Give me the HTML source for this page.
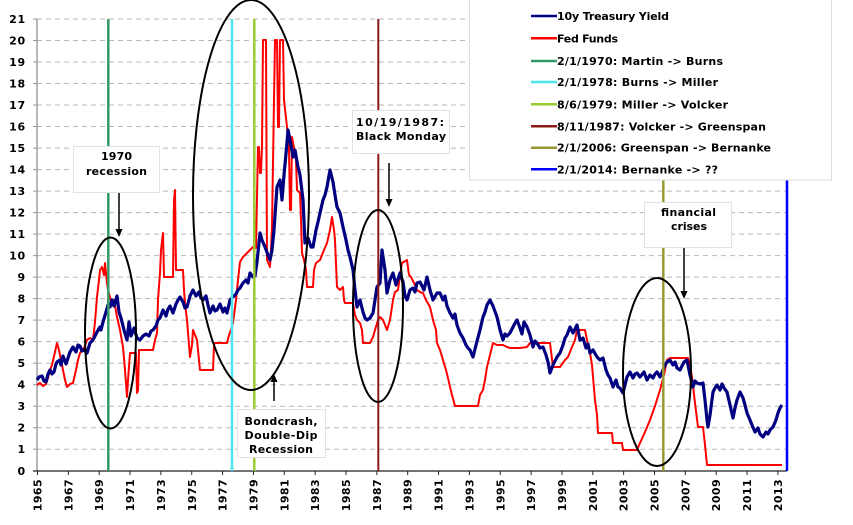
<!DOCTYPE html>
<html><head><meta charset="utf-8"><style>
html,body{margin:0;padding:0;background:#fff;}
svg{display:block;}
text{font-family:"DejaVu Sans","Liberation Sans",sans-serif;font-weight:bold;font-size:11px;fill:#000;}
</style></head><body>
<svg width="853" height="525" viewBox="0 0 853 525" xmlns="http://www.w3.org/2000/svg">
<rect width="853" height="525" fill="#fff"/>
<!-- gridlines -->
<g stroke="#b8b8b8" stroke-width="1" stroke-dasharray="5,4">
<line x1="37" y1="449.2" x2="787" y2="449.2"/>
<line x1="37" y1="427.7" x2="787" y2="427.7"/>
<line x1="37" y1="406.2" x2="787" y2="406.2"/>
<line x1="37" y1="384.7" x2="787" y2="384.7"/>
<line x1="37" y1="363.2" x2="787" y2="363.2"/>
<line x1="37" y1="341.6" x2="787" y2="341.6"/>
<line x1="37" y1="320.1" x2="787" y2="320.1"/>
<line x1="37" y1="298.6" x2="787" y2="298.6"/>
<line x1="37" y1="277.1" x2="787" y2="277.1"/>
<line x1="37" y1="255.6" x2="787" y2="255.6"/>
<line x1="37" y1="234.1" x2="787" y2="234.1"/>
<line x1="37" y1="212.6" x2="787" y2="212.6"/>
<line x1="37" y1="191.1" x2="787" y2="191.1"/>
<line x1="37" y1="169.6" x2="787" y2="169.6"/>
<line x1="37" y1="148.1" x2="787" y2="148.1"/>
<line x1="37" y1="126.5" x2="787" y2="126.5"/>
<line x1="37" y1="105.0" x2="787" y2="105.0"/>
<line x1="37" y1="83.5" x2="787" y2="83.5"/>
<line x1="37" y1="62.0" x2="787" y2="62.0"/>
<line x1="37" y1="40.5" x2="787" y2="40.5"/>
<line x1="37" y1="19.0" x2="787" y2="19.0"/>
</g>
<!-- axes -->
<line x1="37" y1="19" x2="37" y2="471" stroke="#888" stroke-width="1.2"/>
<g stroke="#999" stroke-width="1">
<line x1="33" y1="449.2" x2="37" y2="449.2"/><line x1="33" y1="427.7" x2="37" y2="427.7"/><line x1="33" y1="406.2" x2="37" y2="406.2"/><line x1="33" y1="384.7" x2="37" y2="384.7"/><line x1="33" y1="363.2" x2="37" y2="363.2"/><line x1="33" y1="341.6" x2="37" y2="341.6"/><line x1="33" y1="320.1" x2="37" y2="320.1"/><line x1="33" y1="298.6" x2="37" y2="298.6"/><line x1="33" y1="277.1" x2="37" y2="277.1"/><line x1="33" y1="255.6" x2="37" y2="255.6"/><line x1="33" y1="234.1" x2="37" y2="234.1"/><line x1="33" y1="212.6" x2="37" y2="212.6"/><line x1="33" y1="191.1" x2="37" y2="191.1"/><line x1="33" y1="169.6" x2="37" y2="169.6"/><line x1="33" y1="148.1" x2="37" y2="148.1"/><line x1="33" y1="126.5" x2="37" y2="126.5"/><line x1="33" y1="105" x2="37" y2="105"/><line x1="33" y1="83.5" x2="37" y2="83.5"/><line x1="33" y1="62" x2="37" y2="62"/><line x1="33" y1="40.5" x2="37" y2="40.5"/><line x1="33" y1="19" x2="37" y2="19"/>
</g>
<line x1="33" y1="471" x2="787" y2="471" stroke="#222" stroke-width="1.3"/>
<g stroke="#222" stroke-width="1">
<line x1="37.5" y1="471" x2="37.5" y2="475"/><line x1="68.35" y1="471" x2="68.35" y2="475"/><line x1="99.2" y1="471" x2="99.2" y2="475"/><line x1="130.05" y1="471" x2="130.05" y2="475"/><line x1="160.9" y1="471" x2="160.9" y2="475"/><line x1="191.75" y1="471" x2="191.75" y2="475"/><line x1="222.6" y1="471" x2="222.6" y2="475"/><line x1="253.45" y1="471" x2="253.45" y2="475"/><line x1="284.3" y1="471" x2="284.3" y2="475"/><line x1="315.15" y1="471" x2="315.15" y2="475"/><line x1="346" y1="471" x2="346" y2="475"/><line x1="376.85" y1="471" x2="376.85" y2="475"/><line x1="407.7" y1="471" x2="407.7" y2="475"/><line x1="438.55" y1="471" x2="438.55" y2="475"/><line x1="469.4" y1="471" x2="469.4" y2="475"/><line x1="500.25" y1="471" x2="500.25" y2="475"/><line x1="531.1" y1="471" x2="531.1" y2="475"/><line x1="561.95" y1="471" x2="561.95" y2="475"/><line x1="592.8" y1="471" x2="592.8" y2="475"/><line x1="623.65" y1="471" x2="623.65" y2="475"/><line x1="654.5" y1="471" x2="654.5" y2="475"/><line x1="685.35" y1="471" x2="685.35" y2="475"/><line x1="716.2" y1="471" x2="716.2" y2="475"/><line x1="747.05" y1="471" x2="747.05" y2="475"/><line x1="777.9" y1="471" x2="777.9" y2="475"/>
</g>
<!-- y labels -->
<g text-anchor="end" style="letter-spacing:0.8px">
<text x="26" y="475">0</text><text x="26" y="453.2">1</text><text x="26" y="431.7">2</text><text x="26" y="410.2">3</text><text x="26" y="388.7">4</text><text x="26" y="367.2">5</text><text x="26" y="345.6">6</text><text x="26" y="324.1">7</text><text x="26" y="302.6">8</text><text x="26" y="281.1">9</text><text x="26" y="259.6">10</text><text x="26" y="238.1">11</text><text x="26" y="216.6">12</text><text x="26" y="195.1">13</text><text x="26" y="173.6">14</text><text x="26" y="152.1">15</text><text x="26" y="130.5">16</text><text x="26" y="109">17</text><text x="26" y="87.5">18</text><text x="26" y="66">19</text><text x="26" y="44.5">20</text><text x="26" y="23">21</text>
</g>
<!-- x labels -->
<g text-anchor="end" style="letter-spacing:0.4px">
<text transform="translate(41.5,479) rotate(-90)">1965</text>
<text transform="translate(72.35,479) rotate(-90)">1967</text>
<text transform="translate(103.2,479) rotate(-90)">1969</text>
<text transform="translate(134.05,479) rotate(-90)">1971</text>
<text transform="translate(164.9,479) rotate(-90)">1973</text>
<text transform="translate(195.75,479) rotate(-90)">1975</text>
<text transform="translate(226.6,479) rotate(-90)">1977</text>
<text transform="translate(257.45,479) rotate(-90)">1979</text>
<text transform="translate(288.3,479) rotate(-90)">1981</text>
<text transform="translate(319.15,479) rotate(-90)">1983</text>
<text transform="translate(350,479) rotate(-90)">1985</text>
<text transform="translate(380.85,479) rotate(-90)">1987</text>
<text transform="translate(411.7,479) rotate(-90)">1989</text>
<text transform="translate(442.55,479) rotate(-90)">1991</text>
<text transform="translate(473.4,479) rotate(-90)">1993</text>
<text transform="translate(504.25,479) rotate(-90)">1995</text>
<text transform="translate(535.1,479) rotate(-90)">1997</text>
<text transform="translate(565.95,479) rotate(-90)">1999</text>
<text transform="translate(596.8,479) rotate(-90)">2001</text>
<text transform="translate(627.65,479) rotate(-90)">2003</text>
<text transform="translate(658.5,479) rotate(-90)">2005</text>
<text transform="translate(689.35,479) rotate(-90)">2007</text>
<text transform="translate(720.2,479) rotate(-90)">2009</text>
<text transform="translate(751.05,479) rotate(-90)">2011</text>
<text transform="translate(781.9,479) rotate(-90)">2013</text>
</g>
<!-- Fed funds -->
<polyline fill="none" stroke="#ff0000" stroke-width="2" stroke-linejoin="round" points="37,385 40,383 43,386 46,384 48,378 50,370 52,365 55,352 57,343 59,350 61,360 63,370 65,380 67,387 70,384 73,383 76,370 78,360 80,353 84,348 87,340 90,338 93,340 95,322 97,297 99,280 100,270 102,267 104,275 105,263 107,283 108,290 110,297 112,305 114,300 117,317 120,330 123,347 125,370 127,397 128,380 130,353 133,353 136,353 137,393 138,390 139,350 145,350 150,350 153,350 155,340 157,333 158,300 160,273 161,250 163,233 164,277 168,277 173,277 174,200 175,190 176,270 180,270 183,270 184,290 185,303 187,320 190,357 192,345 193,330 195,335 197,340 199,360 200,370 205,370 210,370 213,370 214,345 215,343 222,343 227,343 229,335 231,330 233,323 236,300 238,280 240,262 243,257 248,252 253,247 256,248 258,147 259,147 260,173 261,173 262,147 263,40 266,40 267,260 270,267 271,250 272,227 274,100 275,40 277,40 278,127 279,127 280,40 283,40 284,100 287,127 289,150 290,210 291,210 292,137 295,153 296,160 297,190 300,193 301,220 302,253 304,260 306,270 307,287 310,287 313,287 314,270 316,263 320,260 324,250 327,243 330,230 332,217 334,230 335,240 337,287 340,290 343,287 344,300 345,303 350,303 353,303 355,315 357,320 360,323 362,330 363,343 366,343 370,343 373,337 375,330 378,320 380,317 383,320 385,325 387,330 390,320 393,300 395,292 398,290 400,275 402,263 407,260 409,275 411,277 414,283 417,290 420,292 423,293 426,300 430,307 433,320 436,330 437,343 440,350 443,360 446,370 448,378 450,387 452,395 455,406 460,406 465,406 470,406 475,406 478,406 480,395 483,390 485,380 487,367 490,355 493,343 497,345 500,345 503,345 507,347 510,348 513,348 520,348 527,347 530,343 540,343 550,343 553,367 560,367 565,360 568,357 572,347 575,340 577,330 580,330 583,330 585,330 588,345 590,353 592,365 593,377 595,400 597,415 598,433 605,433 612,433 613,443 620,443 622,443 623,450 630,450 637,450 640,443 645,432 650,420 655,406 660,390 664,375 667,360 670,358 688,358 690,365 692,377 695,403 698,427 703,427 705,445 707,465 782,465"/>
<!-- 10y -->
<polyline fill="none" stroke="#000080" stroke-width="3.2" stroke-linejoin="round" points="37,380 39,377 42,376 44,381 46,382 48,374 50,370 52,374 54,372 56,364 57,362 60,360 61,365 63,356 66,364 68,358 70,352 73,347 76,352 78,345 80,346 82,351 84,350 87,353 90,343 92,341 94,338 97,332 100,327 101,330 103,322 106,312 108,305 110,307 112,300 114,306 117,296 119,312 121,318 124,330 127,340 129,322 131,336 134,328 137,338 140,340 143,336 146,334 149,336 151,331 153,330 156,326 158,320 160,318 163,310 166,316 168,309 170,306 173,313 176,304 178,300 180,297 183,302 185,308 187,307 190,296 193,290 196,296 199,292 201,298 203,300 206,296 208,305 210,313 213,306 215,311 217,310 220,304 223,312 225,308 227,313 230,300 233,297 236,294 238,290 240,288 243,283 246,280 248,283 250,273 253,277 255,276 257,262 260,233 262,240 265,247 268,255 270,260 272,250 274,230 277,187 280,180 282,200 284,175 287,143 288,130 290,140 293,157 295,150 298,167 300,175 303,200 305,243 308,238 311,247 313,247 316,230 318,222 320,213 323,200 325,195 327,187 330,170 333,182 335,195 337,207 340,213 343,227 346,240 348,250 350,257 353,270 355,290 357,307 360,300 363,312 365,318 367,320 370,318 373,313 375,300 377,287 380,283 382,250 385,270 387,293 390,280 393,273 396,285 398,279 400,273 403,282 405,296 407,300 410,290 413,288 415,292 417,283 420,282 424,290 427,277 430,290 433,300 437,293 440,293 443,300 445,296 447,306 450,313 453,318 455,314 457,325 460,333 463,338 466,345 468,348 470,350 473,357 476,345 480,330 483,317 485,312 487,305 490,300 493,306 497,317 500,330 503,340 505,334 507,336 510,333 514,325 517,320 520,328 522,334 524,322 527,327 530,335 533,347 535,341 537,343 540,348 543,347 546,355 548,362 550,373 553,365 557,357 560,353 563,345 565,338 567,335 570,327 573,333 575,329 577,325 580,340 583,338 586,348 588,344 590,353 593,350 597,357 600,360 603,358 606,370 608,375 610,378 613,387 616,380 618,387 620,388 623,393 625,385 627,377 630,372 633,378 635,374 637,373 640,377 644,372 647,380 650,375 653,378 655,374 657,372 660,377 663,370 665,365 667,362 670,360 673,365 675,362 677,368 680,370 684,362 687,360 690,375 693,387 695,381 697,383 700,384 703,383 705,400 707,420 708,427 710,415 713,392 715,388 717,385 720,390 722,384 724,388 727,392 730,405 733,418 735,408 737,400 740,392 743,398 745,405 747,413 750,420 752,425 755,432 758,428 760,434 763,437 766,432 768,434 770,430 773,427 776,420 778,413 780,408 782,405"/>
<!-- vertical markers -->
<line x1="108.3" y1="19" x2="108.3" y2="471" stroke="#339966" stroke-width="2.5"/>
<line x1="232" y1="19" x2="232" y2="471" stroke="#4fe5ee" stroke-width="2.5"/>
<line x1="254.3" y1="19" x2="254.3" y2="471" stroke="#99cc33" stroke-width="2.5"/>
<line x1="378.3" y1="19" x2="378.3" y2="471" stroke="#8b1a1a" stroke-width="2"/>
<line x1="663.3" y1="175" x2="663.3" y2="471" stroke="#999933" stroke-width="2.5"/>
<line x1="787" y1="175" x2="787" y2="471" stroke="#0000ff" stroke-width="2.5"/>
<!-- ellipses -->
<g fill="none" stroke="#000" stroke-width="2">
<ellipse cx="110.5" cy="333" rx="25.5" ry="95.5"/>
<ellipse cx="251" cy="195" rx="58" ry="195"/>
<ellipse cx="378" cy="306" rx="25" ry="96"/>
<ellipse cx="657" cy="372" rx="34" ry="94"/>
</g>
<!-- legend -->
<rect x="469.5" y="-1" width="362" height="181" fill="#fff" stroke="#dcdcdc" stroke-width="1"/>
<g stroke-width="2.5">
<line x1="531" y1="16" x2="557" y2="16" stroke="#000080"/>
<line x1="531" y1="38.3" x2="557" y2="38.3" stroke="#ff0000"/>
<line x1="531" y1="61" x2="557" y2="61" stroke="#339966"/>
<line x1="531" y1="82" x2="557" y2="82" stroke="#4fe5ee"/>
<line x1="531" y1="104.3" x2="557" y2="104.3" stroke="#99cc33"/>
<line x1="531" y1="126.3" x2="557" y2="126.3" stroke="#8b1a1a"/>
<line x1="531" y1="147.7" x2="557" y2="147.7" stroke="#999933"/>
<line x1="531" y1="169.3" x2="557" y2="169.3" stroke="#0000ff"/>
</g>
<g lengthAdjust="spacingAndGlyphs">
<text x="557" y="20" textLength="112">10y Treasury Yield</text>
<text x="557" y="42.3" textLength="61">Fed Funds</text>
<text x="557" y="65" textLength="166">2/1/1970: Martin -&gt; Burns</text>
<text x="557" y="86" textLength="161">2/1/1978: Burns -&gt; Miller</text>
<text x="557" y="108.3" textLength="171">8/6/1979: Miller -&gt; Volcker</text>
<text x="557" y="130.3" textLength="209">8/11/1987: Volcker -&gt; Greenspan</text>
<text x="557" y="151.7" textLength="214">2/1/2006: Greenspan -&gt; Bernanke</text>
<text x="557" y="173.3" textLength="161">2/1/2014: Bernanke -&gt; ??</text>
</g>
<!-- annotation boxes -->
<g fill="#fff" stroke="#e2e2e2" stroke-width="1">
<rect x="73.5" y="146.5" width="86" height="46"/>
<rect x="237.5" y="409.5" width="88" height="48"/>
<rect x="352.5" y="110.5" width="97" height="43"/>
<rect x="644.5" y="202.5" width="87" height="45"/>
</g>
<g text-anchor="middle">
<text x="116.5" y="160" textLength="31">1970</text>
<text x="116.5" y="175" textLength="61">recession</text>
<text x="281" y="425" textLength="73">Bondcrash,</text>
<text x="281" y="439" textLength="73">Double-Dip</text>
<text x="281" y="453" textLength="64">Recession</text>
<text x="688.5" y="216" textLength="55">financial</text>
<text x="689" y="230" textLength="36">crises</text>
</g>
<text x="356" y="126" textLength="88">10/19/1987:</text>
<text x="356" y="140" textLength="90">Black Monday</text>
<!-- arrows -->
<g stroke="#000" stroke-width="1.5">
<line x1="119" y1="193" x2="119" y2="230"/>
<line x1="274" y1="401" x2="274" y2="381"/>
<line x1="389" y1="163" x2="389" y2="200"/>
<line x1="684" y1="248" x2="684" y2="292"/>
</g>
<g fill="#000">
<polygon points="115.5,229 122.5,229 119,237"/>
<polygon points="270.5,382 277.5,382 274,374"/>
<polygon points="385.5,199 392.5,199 389,207"/>
<polygon points="680.5,291 687.5,291 684,299"/>
</g>
</svg>
</body></html>
